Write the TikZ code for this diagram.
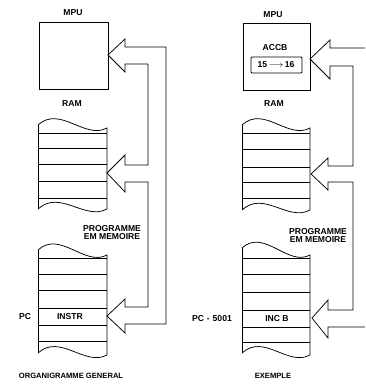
\documentclass[tikz,border=0pt]{standalone}
\usepackage{fontspec}
\setmainfont{Liberation Sans}
\tikzset{
  lbl/.style={font=\fontsize{8.6}{9.5}\selectfont\bfseries, inner sep=0pt, anchor=center},
  captxt/.style={font=\fontsize{7.6}{8.5}\selectfont\bfseries, inner sep=0pt, anchor=center},
  lblsm/.style={font=\fontsize{8.6}{9}\selectfont\bfseries, inner sep=0pt, anchor=center, align=center},
  ln/.style={line width=0.75pt, line join=miter},
}
\newcommand{\wavy}[4]{(#1,#2) .. controls (#1+22,#2-20) and (#3-22,#4+12) .. (#3,#4)}
\begin{document}
\begin{tikzpicture}[x=1pt,y=-1pt]
\useasboundingbox (0,0) rectangle (365,385);
\fill[white] (0,0) rectangle (365,385);
\clip (0,0) rectangle (365,385);

% ---------------- LEFT: ORGANIGRAMME GENERAL ----------------
\node[lbl] (mpuL) at (73,13) {MPU};
\draw[ln] (39,22) rectangle (108,89);
\node[lbl] (ramL) at (72,104) {RAM};
% top memory block
\draw[ln] \wavy{38}{125}{107}{128} -- (107,209);
\draw[ln] (38,125) -- (38,209);
\draw[ln] \wavy{38}{209}{107}{209};
\foreach \y in {133,148,164,181,198} \draw[ln] (38,\y) -- (107,\y);
% program block
\draw[ln] \wavy{38}{250}{107}{255} -- (107,355);
\draw[ln] (38,250) -- (38,353);
\draw[ln] \wavy{38}{353}{107}{355};
\foreach \y in {258,274,290,308,325,341} \draw[ln] (38,\y) -- (107,\y);
\node[lblsm] (progL) at (112,232.5) {PROGRAMME\\[-1.5pt]EM MEMOIRE};
\node[lbl] (pcL) at (25,317) {PC};
\node[lbl] (instr) at (70,316.5) {INSTR};
% fat hollow arrows with bus lines
\coordinate (tipL1) at (108,55);
\coordinate (tipL2) at (107,173);
\coordinate (tipL3) at (107,316);
\draw[ln] (166,47) -- (125,47) -- (125,39) -- (tipL1) -- (125,72) -- (125,64) -- (148,64)
  -- (148,165) -- (125,165) -- (125,155) -- (tipL2) -- (125,192) -- (125,182) -- (148,182)
  -- (148,307) -- (125,307) -- (125,299) -- (tipL3) -- (125,333) -- (125,324) -- (166,324) -- cycle;
\node[captxt] (capL) at (71,376) {ORGANIGRAMME GENERAL};

% ---------------- RIGHT: EXEMPLE ----------------
\node[lbl] (mpuR) at (273,15) {MPU};
\draw[ln] (243,23) rectangle (310,90);
\node[lbl] (accb) at (275,48) {ACCB};
\draw[ln, rounded corners=1pt] (251,57) rectangle (302,73);
\node[lbl] (val) at (276,65) {15\,$\longrightarrow$\,16};
\node[lbl] (ramR) at (274,104) {RAM};
\draw[ln] \wavy{242}{125}{310}{128} -- (310,210);
\draw[ln] (242,125) -- (242,210);
\draw[ln] \wavy{242}{210}{310}{210};
\foreach \y in {133,149,167,182,198} \draw[ln] (242,\y) -- (310,\y);
\draw[ln] \wavy{242}{248}{310}{255} -- (310,355);
\draw[ln] (242,248) -- (242,353);
\draw[ln] \wavy{242}{353}{310}{355};
\foreach \y in {258,274,292,310,327,342} \draw[ln] (242,\y) -- (310,\y);
\node[lblsm] (progR) at (318,235.5) {PROGRAMME\\[-1.5pt]EM MEMOIRE};
\node[lbl] (pcR) at (212,319) {PC\,\,-\,\,5001};
\node[lbl] (incb) at (277,318.5) {INC B};
\coordinate (tipR1) at (310,59);
\coordinate (tipR2) at (311,174);
\coordinate (tipR3) at (312,318);
\draw[ln] (370,48) -- (330,48) -- (330,40) -- (tipR1) -- (330,79) -- (330,66) -- (353,66)
  -- (353,166) -- (328,166) -- (328,158) -- (tipR2) -- (328,190) -- (328,182) -- (353,182)
  -- (353,310) -- (328,310) -- (328,300) -- (tipR3) -- (328,338) -- (328,327) -- (370,327);
\node[captxt] (capR) at (273,376) {EXEMPLE};
\end{tikzpicture}
\end{document}
